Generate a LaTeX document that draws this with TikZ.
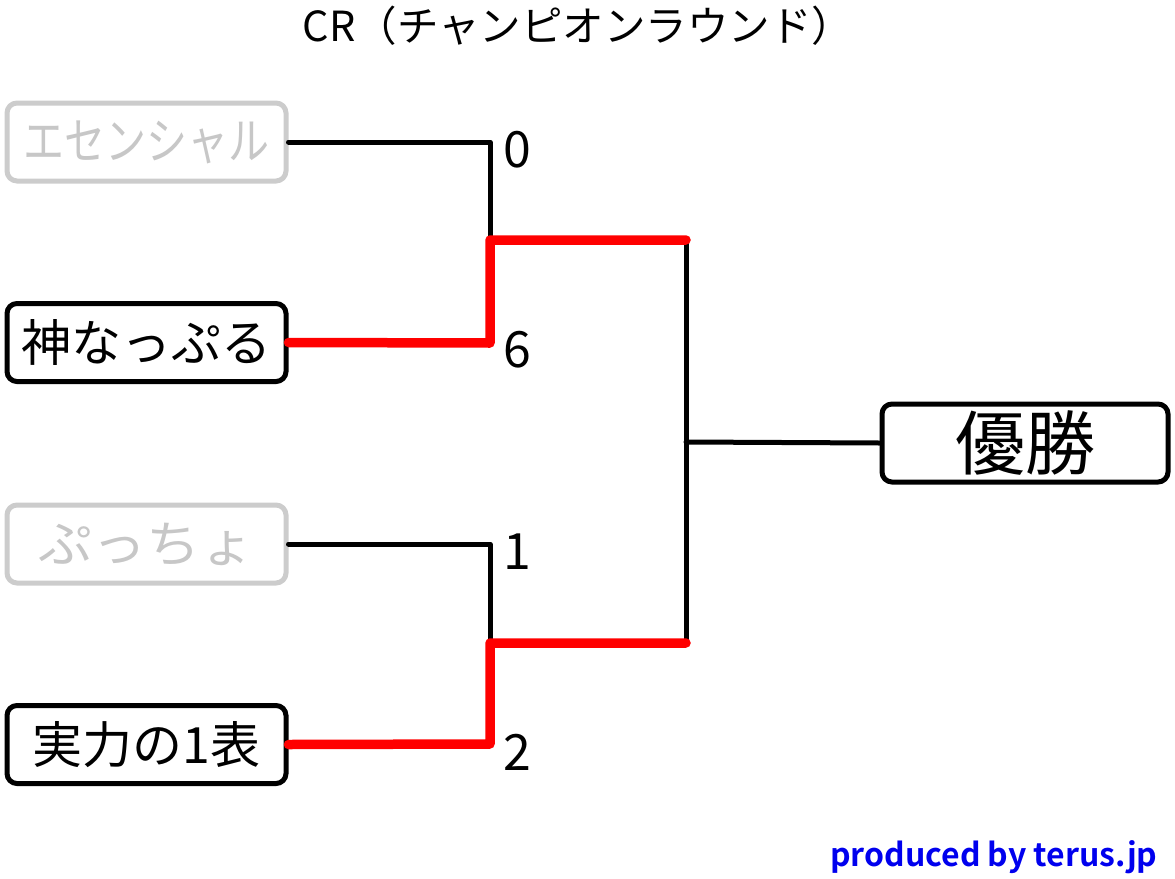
\documentclass[tikz,border=0pt]{standalone}
\usepackage{fontspec}
\setmainfont{Noto Sans CJK JP}
\newfontfamily\jpbold{Noto Sans CJK JP Bold}
\begin{document}
\begin{tikzpicture}[x=1pt,y=-1pt,
  team/.style={draw=black,line width=5pt,rounded corners=10pt,minimum width=279pt,minimum height=78pt,inner sep=0pt,font=\fontsize{50}{50}\selectfont,fill=white},
  loser/.style={team,draw=black!20,text=black!22},
  champ/.style={team,minimum width=286pt},
  score/.style={anchor=west,inner sep=0pt,font=\fontsize{50}{50}\selectfont},
  blk/.style={line width=5pt,line cap=round,line join=round},
  win/.style={line width=9.5pt,red,line cap=round,line join=round}]
\useasboundingbox (0,0) rectangle (1175,878);
\node[font=\fontsize{41.5}{41.5}\selectfont] (title) at (578,26) {CR（チャンピオンラウンド）};
\node[loser] (t1) at (146.5,142) {\scalebox{0.82}[1]{エセンシャル}};
\node[team] (t2) at (146.5,342.5) {神なっぷる};
\node[loser] (t3) at (146.5,544) {\scalebox{1.08}[1]{ぷっちょ}};
\node[team] (t4) at (146.5,744.5) {実力の1表};
\node[champ] (w) at (1025,443) {\fontsize{70}{70}\selectfont 優勝};
\node[score] (s1) at (503,150) {0};
\node[score] (s2) at (503,350) {6};
\node[score] (s3) at (503,552) {1};
\node[score] (s4) at (503,752) {2};
\coordinate (a1) at (490,142);
\coordinate (a2) at (490,343);
\coordinate (am) at (490,240);
\coordinate (b1) at (490,544);
\coordinate (b2) at (490,744);
\coordinate (bm) at (490,643);
\coordinate (ct) at (686,240);
\coordinate (cb) at (686,643);
\coordinate (cm) at (686,442);
\draw[blk] (t1.east) -- (a1) -- (am);
\draw[blk] (t3.east) -- (b1) -- (bm);
\draw[blk] (ct) -- (cb);
\draw[blk] (cm) -- (w.west);
\draw[win] (t2.east) -- (a2) -- (am) -- (ct);
\draw[win] (t4.east) -- (b2) -- (bm) -- (cb);
\node[font=\jpbold\fontsize{32}{32}\selectfont,text={rgb,255:red,0;green,0;blue,238},anchor=east] (credit) at (1161,857) {produced by terus.jp};
\end{tikzpicture}
\end{document}
